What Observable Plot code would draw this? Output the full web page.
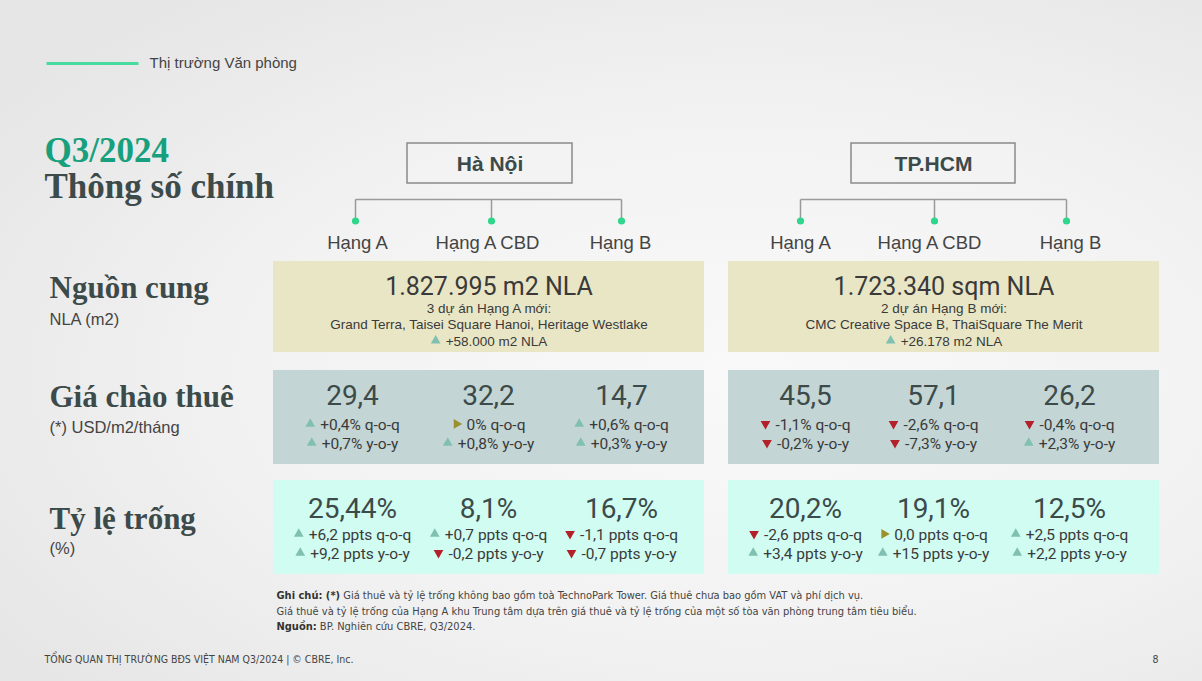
<!DOCTYPE html>
<html><head><meta charset="utf-8">
<script src="https://cdn.jsdelivr.net/npm/d3@7"></script>
<script src="https://cdn.jsdelivr.net/npm/@observablehq/plot@0.6"></script>
<style>
html,body{margin:0;padding:0;width:1202px;height:681px;overflow:hidden;}
body{background:radial-gradient(ellipse 75% 70% at 62% 55%, #f9f9f9 0%, #f2f2f2 55%, #e6e6e6 100%);}
#chart svg{display:block;}
</style></head>
<body><div id="chart"></div>
<script>
// ---------------- DATA ----------------
const sectionLabel = "Thị trường Văn phòng";
const quarter = "Q3/2024";
const pageTitle = "Thông số chính";
const cities = ["Hà Nội", "TP.HCM"];
const grades = ["Hạng A", "Hạng A CBD", "Hạng B"];
const metricNames = ["Nguồn cung", "Giá chào thuê", "Tỷ lệ trống"];
const metricUnits = ["NLA (m2)", "(*) USD/m2/tháng", "(%)"];

const supplyTotal = ["1.827.995 m2 NLA", "1.723.340 sqm NLA"];
const supplyNewCount = ["3 dự án Hạng A mới:", "2 dự án Hạng B mới:"];
const supplyNewProjects = ["Grand Terra, Taisei Square Hanoi, Heritage Westlake", "CMC Creative Space B, ThaiSquare The Merit"];
const supplyAdded = [58000, 26178];

// order: Hà Nội (A, A CBD, B), TP.HCM (A, A CBD, B)
const rentValue = [29.4, 32.2, 14.7, 45.5, 57.1, 26.2];
const rentQoQ   = [0.4, 0, 0.6, -1.1, -2.6, -0.4];
const rentYoY   = [0.7, 0.8, 0.3, -0.2, -7.3, 2.3];
const vacValue  = [25.44, 8.1, 16.7, 20.2, 19.1, 12.5];
const vacQoQ    = [6.2, 0.7, -1.1, -2.6, 0, 2.5];
const vacYoY    = [9.2, -0.2, -0.7, 3.4, 15, 2.2];

const noteBold = ["Ghi chú: (*)", "", "Nguồn:"];
const noteText = [
  "Giá thuê và tỷ lệ trống không bao gồm toà TechnoPark Tower. Giá thuê chưa bao gồm VAT và phí dịch vụ.",
  "Giá thuê và tỷ lệ trống của Hạng A khu Trung tâm dựa trên giá thuê và tỷ lệ trống của một số tòa văn phòng trung tâm tiêu biểu.",
  "BP. Nghiên cứu CBRE, Q3/2024."
];
const footerText = "TỔNG QUAN THỊ TRƯỜNG BĐS VIỆT NAM Q3/2024 | © CBRE, Inc.";
const pageNumber = "8";

// ---------------- LAYOUT ----------------
const W = 1202, H = 681;
const L = {
  rule: {x1: 46, x2: 138, y: 63},
  section: {x: 149, base: 67},
  title: {x: 44, base: [161, 197]},
  metric: {x: 49, nameBase: [297, 406, 528], unitBase: [324, 432, 553]},
  panelX: [[273, 704], [728, 1159]],
  panelY: [[261, 352], [370, 464], [480, 574]],
  panelFill: ["#e9e6c6", "#c3d5d4", "#d0fcf1"],
  cityBoxX: [[407, 572], [851, 1015]], cityBoxY: [143, 183], cityBase: 170,
  branchX: [[355, 491, 621], [800, 934, 1066]], branchY: [199, 220.5],
  gradeX: [[357, 487, 620], [800, 929, 1070]], gradeBase: 248,
  cellX: [[352, 488, 621], [805, 933, 1069]],
  supplyBase: [294, 312, 328, 345],
  rentBase: [404, 429, 448],
  vacBase: [517, 539, 558],
  notes: {x: 276, base: [598, 614, 629]},
  footer: {x: 44, base: 662, pageX: 1158}
};
const SANS = "Roboto, 'Liberation Sans', sans-serif";
const ARIAL = "'Liberation Sans', Arial, sans-serif";
const SERIF = "'Liberation Serif', 'Times New Roman', serif";
const NARROW = "'Liberation Sans Narrow', 'DejaVu Sans Condensed', sans-serif";
const DARK = "#3c4a4a", TXT = "#3a3a3a", TEAL = "#17a07d";
const UP = "#80c0b1", DOWN = "#b3202a", FLAT = "#9c8f2e";
const TRI = 10, GAP = 5;

// ---------------- HELPERS ----------------
const ctx = document.createElement("canvas").getContext("2d");
const measure = (s, size, fam, weight = "normal") => { ctx.font = `${weight} ${size}px ${fam}`; return ctx.measureText(s).width; };
const mid = (base, size) => base - 0.32 * size;
const viFmt = d3.formatLocale({decimal: ",", thousands: ".", grouping: [3], currency: ["", ""]}).format(",d");
const fmtNum = v => String(v).replace(".", ",");
const fmtDelta = (v, unit, zero) => v === 0 ? zero : (v > 0 ? "+" : "") + fmtNum(v) + unit;

// delta lines with triangle marker
const deltaRows = [];
function addDelta(cx, base, label, sign, size, fam) {
  const w = measure(label, size, fam);
  const start = cx - (TRI + GAP + w) / 2;
  deltaRows.push({tx: start + TRI + GAP, ty: mid(base, size), label, size, fam,
    triX: start + TRI / 2, triY: base - 0.36 * size,
    rot: sign > 0 ? 0 : sign < 0 ? 180 : 90,
    col: sign > 0 ? UP : sign < 0 ? DOWN : FLAT});
}
const bigRows = [];
cities.forEach((c, ci) => grades.forEach((g, gi) => {
  const k = ci * 3 + gi, cx = L.cellX[ci][gi];
  bigRows.push({x: cx, y: mid(L.rentBase[0], 28), t: fmtNum(rentValue[k])});
  bigRows.push({x: cx, y: mid(L.vacBase[0], 28), t: fmtNum(vacValue[k]) + "%"});
  addDelta(cx, L.rentBase[1], fmtDelta(rentQoQ[k], "%", "0%") + " q-o-q", Math.sign(rentQoQ[k]), 15.5, SANS);
  addDelta(cx, L.rentBase[2], fmtDelta(rentYoY[k], "%", "0%") + " y-o-y", Math.sign(rentYoY[k]), 15.5, SANS);
  addDelta(cx, L.vacBase[1], fmtDelta(vacQoQ[k], " ppts", "0,0 ppts") + " q-o-q", Math.sign(vacQoQ[k]), 15.5, SANS);
  addDelta(cx, L.vacBase[2], fmtDelta(vacYoY[k], " ppts", "0,0 ppts") + " y-o-y", Math.sign(vacYoY[k]), 15.5, SANS);
}));
const supplyRows = cities.map((c, ci) => {
  const cx = (L.panelX[ci][0] + L.panelX[ci][1]) / 2;
  addDelta(cx, L.supplyBase[3], "+" + viFmt(supplyAdded[ci]) + " m2 NLA", 1, 13.5, ARIAL);
  return {cx, total: supplyTotal[ci], count: supplyNewCount[ci], proj: supplyNewProjects[ci]};
});
const deltaSans = deltaRows.filter(d => d.fam === SANS);
const deltaArial = deltaRows.filter(d => d.fam === ARIAL);

const panels = [];
metricNames.forEach((m, mi) => cities.forEach((c, ci) => panels.push({
  x1: L.panelX[ci][0], x2: L.panelX[ci][1], y1: L.panelY[mi][0], y2: L.panelY[mi][1], fill: L.panelFill[mi]})));

const cityBoxes = cities.map((c, ci) => ({name: c, x1: L.cityBoxX[ci][0], x2: L.cityBoxX[ci][1],
  cx: (L.cityBoxX[ci][0] + L.cityBoxX[ci][1]) / 2}));
const branches = [], hLines = [], gradeLabels = [];
cities.forEach((c, ci) => {
  hLines.push({x1: L.branchX[ci][0], x2: L.branchX[ci][2], y: L.branchY[0]});
  grades.forEach((g, gi) => {
    branches.push({x: L.branchX[ci][gi]});
    gradeLabels.push({x: L.gradeX[ci][gi], t: g});
  });
});

const noteRows = noteText.map((t, i) => {
  const bw = noteBold[i] ? measure(noteBold[i], 11, NARROW, "bold") + measure(" ", 11, NARROW) : 0;
  return {bold: noteBold[i], text: t, y: mid(L.notes.base[i], 11), tx: L.notes.x + bw};
});

// ---------------- PLOT ----------------
const chart = Plot.plot({
  width: W, height: H, margin: 0,
  x: {domain: [0, W], range: [0, W], axis: null},
  y: {domain: [0, H], range: [0, H], axis: null},
  color: {type: "identity"},
  style: {background: "transparent", overflow: "visible"},
  marks: [
    // header rule + section label
    Plot.link([L.rule], {x1: "x1", x2: "x2", y1: "y", y2: "y", stroke: "#48dba0", strokeWidth: 3}),
    Plot.text([sectionLabel], {x: L.section.x, y: mid(L.section.base, 15), text: d => d, textAnchor: "start", fontSize: 15, fontFamily: ARIAL, fill: "#444"}),
    // titles
    Plot.text([quarter], {x: L.title.x, y: mid(L.title.base[0], 35), text: d => d, textAnchor: "start", fontSize: 35, fontFamily: SERIF, fontWeight: "bold", fill: TEAL}),
    Plot.text([pageTitle], {x: L.title.x, y: mid(L.title.base[1], 35), text: d => d, textAnchor: "start", fontSize: 35, fontFamily: SERIF, fontWeight: "bold", fill: DARK}),
    // metric headings
    Plot.text(metricNames, {x: L.metric.x, y: (d, i) => mid(L.metric.nameBase[i], 31), text: d => d, textAnchor: "start", fontSize: 31, fontFamily: SERIF, fontWeight: "bold", fill: DARK}),
    Plot.text(metricUnits, {x: L.metric.x, y: (d, i) => mid(L.metric.unitBase[i], 16.5), text: d => d, textAnchor: "start", fontSize: 16.5, fontFamily: ARIAL, fill: "#444"}),
    // city boxes and tree
    Plot.rect(cityBoxes, {x1: "x1", x2: "x2", y1: L.cityBoxY[0], y2: L.cityBoxY[1], fill: "#f4f4f4", fillOpacity: 0.5, stroke: "#8a8a8a", strokeWidth: 1.5}),
    Plot.text(cityBoxes, {x: "cx", y: mid(L.cityBase, 21), text: "name", fontSize: 21, fontFamily: ARIAL, fontWeight: "bold", fill: DARK}),
    Plot.link(hLines, {x1: "x1", x2: "x2", y1: "y", y2: "y", stroke: "#9a9a9a", strokeWidth: 1.5}),
    Plot.link(branches, {x1: "x", x2: "x", y1: L.branchY[0], y2: L.branchY[1], stroke: "#9a9a9a", strokeWidth: 1.5}),
    Plot.dot(branches, {x: "x", y: L.branchY[1], r: 3.6, fill: "#2fd68c"}),
    Plot.text(gradeLabels, {x: "x", y: mid(L.gradeBase, 18.5), text: "t", fontSize: 18.5, fontFamily: ARIAL, fill: "#444"}),
    // panels
    Plot.rect(panels, {x1: "x1", x2: "x2", y1: "y1", y2: "y2", fill: "fill"}),
    // supply texts
    Plot.text(supplyRows, {x: "cx", y: mid(L.supplyBase[0], 25), text: "total", fontSize: 25, fontFamily: SANS, fill: TXT}),
    Plot.text(supplyRows, {x: "cx", y: mid(L.supplyBase[1], 13.5), text: "count", fontSize: 13.5, fontFamily: ARIAL, fill: TXT}),
    Plot.text(supplyRows, {x: "cx", y: mid(L.supplyBase[2], 13.5), text: "proj", fontSize: 13.5, fontFamily: ARIAL, fill: TXT}),
    // big values
    Plot.text(bigRows, {x: "x", y: "y", text: "t", fontSize: 28, fontFamily: SANS, fill: DARK}),
    // deltas
    Plot.dot(deltaRows, {x: "triX", y: "triY", symbol: "triangle", r: 3.6, rotate: "rot", fill: "col"}),
    Plot.text(deltaSans, {x: "tx", y: "ty", text: "label", fontSize: "size", textAnchor: "start", fontFamily: SANS, fill: TXT}),
    Plot.text(deltaArial, {x: "tx", y: "ty", text: "label", fontSize: "size", textAnchor: "start", fontFamily: ARIAL, fill: TXT}),
    // notes
    Plot.text(noteRows.filter(d => d.bold), {x: L.notes.x, y: "y", text: "bold", textAnchor: "start", fontSize: 11, fontFamily: NARROW, fontWeight: "bold", fill: "#333"}),
    Plot.text(noteRows, {x: "tx", y: "y", text: "text", textAnchor: "start", fontSize: 11, fontFamily: NARROW, fill: "#444"}),
    // footer
    Plot.text([footerText], {x: L.footer.x, y: mid(L.footer.base, 10.5), text: d => d, textAnchor: "start", fontSize: 10.5, fontFamily: NARROW, fill: "#444"}),
    Plot.text([pageNumber], {x: L.footer.pageX, y: mid(L.footer.base, 10.5), text: d => d, textAnchor: "end", fontSize: 10.5, fontFamily: NARROW, fill: "#444"})
  ]
});
document.getElementById("chart").append(chart);
</script></body></html>
